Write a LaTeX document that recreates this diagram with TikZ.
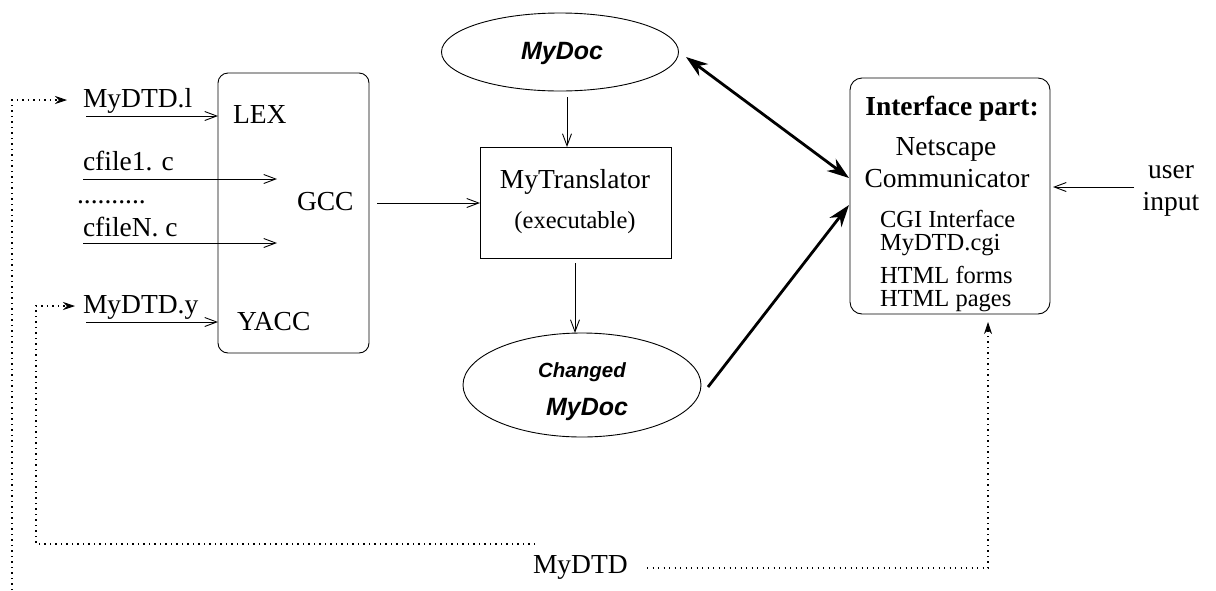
\documentclass[tikz,border=0pt]{standalone}
\usepackage{fontspec}
\setmainfont{Liberation Serif}
\newfontfamily\hvfont{Liberation Sans}
\usetikzlibrary{arrows.meta,shapes.geometric}
\begin{document}
\begin{tikzpicture}[x=1pt,y=-1pt,
  every node/.style={inner sep=0pt,outer sep=0pt},
  txt/.style={font=\fontsize{27.5}{30}\selectfont},
  smalltxt/.style={font=\fontsize{24.5}{26}\selectfont},
  boldtxt/.style={font=\fontsize{27.5}{30}\selectfont\bfseries},
  doctxt/.style={font=\fontsize{25}{28}\selectfont\hvfont\bfseries\itshape},
  chgtxt/.style={font=\fontsize{20.5}{24}\selectfont\hvfont\bfseries\itshape},
  frame/.style={draw,line width=0.9pt},
  thin/.style={draw,line width=0.9pt,-{Straight Barb[length=12pt,width=9pt]}},
  thick/.style={draw,line width=2.8pt,-{Stealth[length=22pt,width=15pt,inset=7pt]}},
  thickboth/.style={draw,line width=2.8pt,{Stealth[length=22pt,width=15pt,inset=7pt]}-{Stealth[length=22pt,width=15pt,inset=7pt]}},
  dots/.style={draw,line width=1.1pt,dash pattern=on 1.1pt off 4.4pt},
  dotarrow/.style={dots,-{Stealth[length=12pt,width=8pt,inset=4pt,line width=0.8pt,sep=0pt]}}
]
\useasboundingbox (0,0) rectangle (1216,590);

% boxes and ellipses
\node[frame,rounded corners=10pt,minimum width=151pt,minimum height=280pt,anchor=north west] (lbox) at (218,73) {};
\node[frame,minimum width=191pt,minimum height=111pt,anchor=north west] (trans) at (480,147) {};
\node[frame,rounded corners=12pt,minimum width=200pt,minimum height=236pt,anchor=north west] (ibox) at (850,78) {};
\node[frame,ellipse,minimum width=237pt,minimum height=78pt] (mydoc) at (560,52) {};
\node[frame,ellipse,minimum width=238pt,minimum height=104pt] (chg) at (582,385) {};

% texts
\node[txt,anchor=base west] (tl) at (83,107) {MyDTD.l};
\node[txt,anchor=base west] (lex) at (233,123) {LEX};
\node[txt,anchor=base west] (cf1) at (83,170) {cfile1. c};
\node[txt,anchor=base west] (cdots) at (77,203) {..........};
\node[txt,anchor=base west] (cfn) at (83,236) {cfileN. c};
\node[txt,anchor=base west] (gcc) at (297,210) {GCC};
\node[txt,anchor=base west] (ty) at (83,313) {MyDTD.y};
\node[txt,anchor=base west] (yacc) at (237,330) {YACC};
\node[txt,anchor=base] (mt) at (575,188) {MyTranslator};
\node[smalltxt,anchor=base] (exe) at (575,228) {(executable)};
\node[doctxt,anchor=base] (mdt) at (562,59) {MyDoc};
\node[chgtxt,anchor=base] (chgt) at (582,377) {Changed};
\node[doctxt,anchor=base] (mdb) at (587,415) {MyDoc};
\node[boldtxt,anchor=base] (ip) at (952,115) {Interface part:};
\node[txt,anchor=base] (ns) at (946,155) {Netscape};
\node[txt,anchor=base] (cm) at (947,187) {Communicator};
\node[smalltxt,anchor=base west] (cgi) at (880,227) {CGI Interface};
\node[smalltxt,anchor=base west] (cgf) at (880,250) {MyDTD.cgi};
\node[smalltxt,anchor=base west] (hf) at (880,283) {HTML forms};
\node[smalltxt,anchor=base west] (hp) at (880,306) {HTML pages};
\node[txt,anchor=base] (user) at (1171,178) {user};
\node[txt,anchor=base] (inp) at (1171,210) {input};
\node[txt,anchor=base west] (dtd) at (533,573) {MyDTD};

% connector end points
\coordinate (a1s) at (86,116);  \coordinate (a1e) at (218,116);
\coordinate (a2s) at (83,179);  \coordinate (a2e) at (277,179);
\coordinate (a3s) at (83,243);  \coordinate (a3e) at (277,243);
\coordinate (a4s) at (86,322);  \coordinate (a4e) at (218,322);
\coordinate (g1) at (377,203);  \coordinate (g2) at (480,203);
\coordinate (m1) at (567,97);   \coordinate (m2) at (567,147);
\coordinate (t1) at (575,263);  \coordinate (t2) at (575,333);
\coordinate (d1) at (686,57);   \coordinate (d2) at (849,178);
\coordinate (c1) at (708,387);  \coordinate (c2) at (849,205);
\coordinate (u1) at (1134,187); \coordinate (u2) at (1053,187);
\coordinate (p0) at (12,590);   \coordinate (p1) at (12,100);  \coordinate (p2) at (67,100);
\coordinate (q0) at (535,544);  \coordinate (q1) at (36,544);  \coordinate (q2) at (36,306); \coordinate (q3) at (75,306);
\coordinate (r0) at (647,568);  \coordinate (r1) at (988,568); \coordinate (r2) at (988,322);

% connectors
\draw[thin] (a1s) -- (a1e);
\draw[thin] (a2s) -- (a2e);
\draw[thin] (a3s) -- (a3e);
\draw[thin] (a4s) -- (a4e);
\draw[thin] (g1) -- (g2);
\draw[thin] (m1) -- (m2);
\draw[thin] (t1) -- (t2);
\draw[thin] (u1) -- (u2);
\draw[thickboth] (d1) -- (d2);
\draw[thick] (c1) -- (c2);
\draw[dotarrow] (p0) -- (p1) -- (p2);
\draw[dotarrow] (q0) -- (q1) -- (q2) -- (q3);
\draw[dotarrow] (r0) -- (r1) -- (r2);
\end{tikzpicture}
\end{document}
